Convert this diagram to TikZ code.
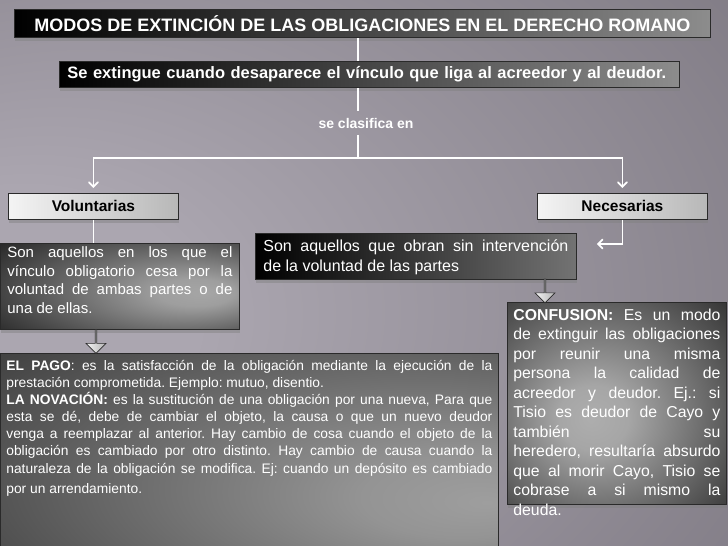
\documentclass[tikz,border=0pt]{standalone}
\usepackage{fontspec}
\setmainfont{Liberation Sans}
\usepackage{xcolor}
\usepackage{tikz}
\usetikzlibrary{shapes.arrows, arrows, shadows}
\definecolor{bgdark}{HTML}{5E5962}
\definecolor{bglight}{HTML}{ABA6B0}
\definecolor{edge}{HTML}{2A2A2A}
\definecolor{pale}{HTML}{F4F4F4}
\tolerance=10000
\hyphenpenalty=10000
\frenchspacing
\pgfdeclareradialshading{bgglow}{\pgfpoint{-28bp}{-5bp}}{color(0bp)=(bglight); color(12bp)=(bglight); color(75bp)=(bgdark)}
\pgfdeclareradialshading{glowright}{\pgfpoint{18bp}{-4bp}}{color(0bp)=(black!35); color(8bp)=(black!38); color(50bp)=(black!95); color(70bp)=(black)}
\pgfdeclareradialshading{glowmid}{\pgfpoint{-6bp}{-4bp}}{color(0bp)=(black!32); color(8bp)=(black!35); color(50bp)=(black!95); color(70bp)=(black)}
\pgfdeclareradialshading{glowlow}{\pgfpoint{24bp}{-12bp}}{color(0bp)=(black!38); color(10bp)=(black!42); color(60bp)=(black!85); color(90bp)=(black)}
\tikzstyle{darkbar} = [rectangle, anchor=north west, 
inner sep=0pt, 
draw=edge, line width=0.8pt, 
left color=black, right color=black!45, 
text=white, 
drop shadow={opacity=0.45, shadow xshift=1pt, shadow yshift=-4pt}]
\tikzstyle{lightbar} = [rectangle, anchor=north west, 
minimum width=170pt, 
minimum height=26pt, 
inner sep=0pt, 
draw=edge, line width=0.8pt, 
left color=pale, right color=black!28, 
text=black, 
font=\fontsize{15.5}{18}\selectfont\bfseries, 
drop shadow={opacity=0.45, shadow xshift=1pt, shadow yshift=-4pt}]
\tikzstyle{textbox} = [rectangle, anchor=north west, 
inner ysep=0pt, 
draw=edge, line width=0.8pt, 
text=white, 
align=justify, 
drop shadow={opacity=0.45, shadow xshift=1pt, shadow yshift=-4pt}]
\tikzstyle{blockarrow} = [single arrow, 
minimum height=24pt, 
minimum width=20pt, 
single arrow head extend=3.5pt, 
inner sep=0pt, 
rotate=-90, 
draw=edge, line width=0.6pt, 
left color=pale, right color=black!30]
\tikzstyle{link} = [white, line width=1.8pt]
\tikzstyle{arrow} = [link, ->, >=angle 90, shorten >=5pt]

\begin{document}
\begin{tikzpicture}[x=1pt, y=-1pt]
\useasboundingbox (0,0) rectangle (728,546);
\shade[shading=bgglow] (0,0) rectangle (728,546);

\node (title) [darkbar, minimum width=696pt, minimum height=28pt, font=\fontsize{18}{20}\selectfont\bfseries] at (14,9) {MODOS DE EXTINCIÓN DE LAS OBLIGACIONES EN EL DERECHO ROMANO};
\node (subtitle) [darkbar, minimum height=26pt, text width=604pt, align=left, inner xsep=8pt, font=\fontsize{16.5}{18}\selectfont\bfseries] at (59,61) {Se extingue cuando desaparece el vínculo que liga al acreedor y al deudor.};
\node (clasif) [text=white, minimum height=24pt, inner sep=0pt, font=\fontsize{14}{16}\selectfont\bfseries] at (366,123) {se clasifica en};
\coordinate (split) at (358,158);
\node (vol) [lightbar] at (8,193) {Voluntarias};
\node (nec) [lightbar] at (537,193) {Necesarias};
\node (voldesc) [textbox, shade, shading=glowright, text width=225pt, inner xsep=7pt, text height=14pt, text depth=72pt, font=\fontsize{15}{18.7}\selectfont] at (0,243) {Son aquellos en los que el\linebreak vínculo obligatorio cesa por la\linebreak voluntad de ambas partes o de\linebreak una de ellas.};
\node (necdesc) [textbox, left color=black, right color=black!55, text width=305pt, inner xsep=8pt, text height=18pt, text depth=28pt, font=\fontsize{16}{20.5}\selectfont] at (255,233) {Son aquellos que obran sin intervención\linebreak de la voluntad de las partes};
\node (pago) [textbox, shade, shading=glowlow, text width=486pt, inner xsep=6pt, text height=17pt, text depth=185pt, font=\fontsize{13.8}{17.1}\selectfont] at (0,353) {\textbf{EL PAGO}: es la satisfacción de la obligación mediante la ejecución de la\linebreak prestación comprometida. Ejemplo: mutuo, disentio.\newline \textbf{LA NOVACIÓN:} es la sustitución de una obligación por una nueva, Para que\linebreak esta se dé, debe de cambiar el objeto, la causa o que un nuevo deudor\linebreak venga a reemplazar al anterior. Hay cambio de cosa cuando el objeto de la\linebreak obligación es cambiado por otro distinto. Hay cambio de causa cuando la\linebreak naturaleza de la obligación se modifica. Ej: cuando un depósito es cambiado\vadjust{\vskip 3pt}\linebreak por un arrendamiento.};
\node (conf) [textbox, shade, shading=glowmid, text width=207pt, inner xsep=6pt, text height=18pt, text depth=184pt, font=\fontsize{15.8}{19.5}\selectfont] at (507,302) {\textbf{CONFUSION:} Es un modo\linebreak de extinguir las obligaciones\linebreak por reunir una misma\linebreak persona la calidad de\linebreak acreedor y deudor. Ej.: si\linebreak Tisio es deudor de Cayo y\linebreak también su\linebreak heredero, resultaría absurdo\linebreak que al morir Cayo, Tisio se\linebreak cobrase a si mismo la\linebreak deuda.};
\node (down1) [blockarrow] at (96,341) {};
\node (down2) [blockarrow] at (545,290.5) {};

\draw [link] (split |- title.south) -- (split |- subtitle.north);
\draw [link] (split |- subtitle.south) -- (split |- clasif.north);
\draw [link] (split |- clasif.south) -- (split);
\draw [arrow] (split) -| (vol);
\draw [arrow] (split) -| (nec);
\draw [link] (vol) -- (vol |- voldesc.north);
\draw [arrow, shorten >=1pt] (nec) |- ([shift={(19,11)}]necdesc.north east);

\end{tikzpicture}
\end{document}
